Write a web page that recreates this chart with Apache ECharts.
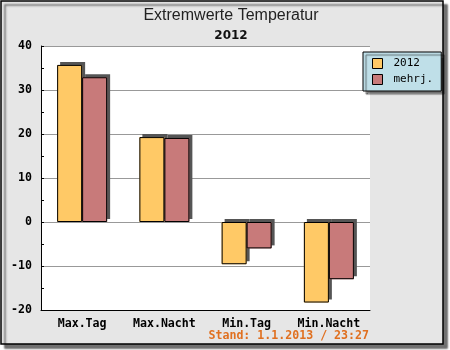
<!DOCTYPE html>
<html>
<head>
<meta charset="utf-8">
<script src="https://cdn.jsdelivr.net/npm/echarts@6/dist/echarts.min.js"></script>
<style>
  html, body { margin: 0; padding: 0; background: #fff; }
  #chart { width: 450px; height: 350px; }
</style>
</head>
<body>
<div id="chart"></div>
<script>
// categories and values
const categories = ['Max.Tag', 'Max.Nacht', 'Min.Tag', 'Min.Nacht'];
const values2012 = [35.7, 19.3, -9.6, -18.3];
const valuesMehrj = [32.9, 19.1, -6.0, -13.0];
const seriesNames = ['2012', 'mehrj.'];

const monoFont = 'DejaVu Sans Mono';

let chart = echarts.init(document.getElementById('chart'), null, { renderer: 'canvas' });

// filled bars carry the shadow, a second set on a hidden x axis draws the outline
function fillSeries(name, data, color) {
    return {
        name: name,
        type: 'bar',
        data: data,
        barWidth: 25,
        barGap: '0%',
        itemStyle: {
            color: color,
            borderWidth: 0,
            shadowColor: '#555',
            shadowBlur: 0,
            shadowOffsetX: 3,
            shadowOffsetY: -3
        },
        emphasis: { disabled: true }
    };
}

function outlineSeries(name, data) {
    return {
        name: name,
        type: 'bar',
        xAxisIndex: 1,
        data: data,
        barWidth: 25,
        barGap: '0%',
        z: 3,
        itemStyle: { color: 'rgba(0,0,0,0)', borderColor: '#000', borderWidth: 1 },
        emphasis: { disabled: true },
        silent: true
    };
}

let option = {
    animation: false,
    graphic: [{
        type: 'rect',
        z: -10,
        shape: { x: 1, y: 1, width: 442, height: 343 },
        style: {
            fill: '#e6e6e6',
            stroke: '#000',
            lineWidth: 1.5,
            shadowColor: 'rgba(0,0,0,0.55)',
            shadowBlur: 2,
            shadowOffsetX: 4,
            shadowOffsetY: 4
        }
    }, {
        type: 'text',
        right: 81,
        top: 330,
        style: {
            text: 'Stand: 1.1.2013 / 23:27',
            fill: '#e07020',
            font: 'bold 11.6px "DejaVu Sans Mono"'
        }
    }],
    title: {
        text: 'Extremwerte Temperatur',
        subtext: '2012',
        left: 226,
        textAlign: 'center',
        top: 3,
        itemGap: 6,
        textStyle: { fontFamily: 'Liberation Sans', fontSize: 16, fontWeight: 'normal', color: '#222' },
        subtextStyle: { fontFamily: 'DejaVu Sans', fontSize: 12, fontWeight: 'bold', color: '#111' }
    },
    legend: {
        data: seriesNames,
        orient: 'vertical',
        left: 363,
        top: 52,
        padding: [6, 8, 6, 9],
        itemGap: 5,
        itemWidth: 10,
        itemHeight: 10,
        icon: 'rect',
        backgroundColor: '#bfdfe8',
        borderColor: '#000',
        borderWidth: 1,
        shadowColor: 'rgba(0,0,0,0.5)',
        shadowBlur: 1,
        shadowOffsetX: 3,
        shadowOffsetY: 3,
        textStyle: { fontFamily: monoFont, fontSize: 11, color: '#000', padding: [0, 0, 0, 6] },
        itemStyle: { borderColor: '#000', borderWidth: 1, shadowBlur: 0, shadowOffsetX: 0, shadowOffsetY: 0 }
    },
    grid: {
        left: 41,
        right: 80,
        top: 46,
        bottom: 40,
        show: true,
        backgroundColor: '#fff',
        borderWidth: 0
    },
    xAxis: [{
        type: 'category',
        data: categories,
        axisLine: { onZero: false, lineStyle: { color: '#000', width: 1 } },
        axisTick: { inside: true, length: 5, lineStyle: { color: '#000' } },
        axisLabel: { fontFamily: monoFont, fontWeight: 'bold', fontSize: 11.6, color: '#000', margin: 8 }
    }, {
        type: 'category',
        data: categories,
        show: false
    }],
    yAxis: {
        type: 'value',
        min: -20,
        max: 40,
        interval: 10,
        axisLine: { show: true, lineStyle: { color: '#000', width: 1 } },
        axisTick: { show: true, inside: true, length: 3, lineStyle: { color: '#000' } },
        minorTick: { show: true, splitNumber: 2, length: 3, lineStyle: { color: '#000' } },
        splitLine: { show: true, lineStyle: { color: '#999', width: 1 } },
        axisLabel: { fontFamily: monoFont, fontWeight: 'bold', fontSize: 11.6, color: '#000', margin: 9 }
    },
    series: [
        fillSeries(seriesNames[0], values2012, '#ffc966'),
        fillSeries(seriesNames[1], valuesMehrj, '#c87a7a'),
        outlineSeries('2012 Rand', values2012),
        outlineSeries('mehrj. Rand', valuesMehrj)
    ]
};

chart.setOption(option);
</script>
</body>
</html>
